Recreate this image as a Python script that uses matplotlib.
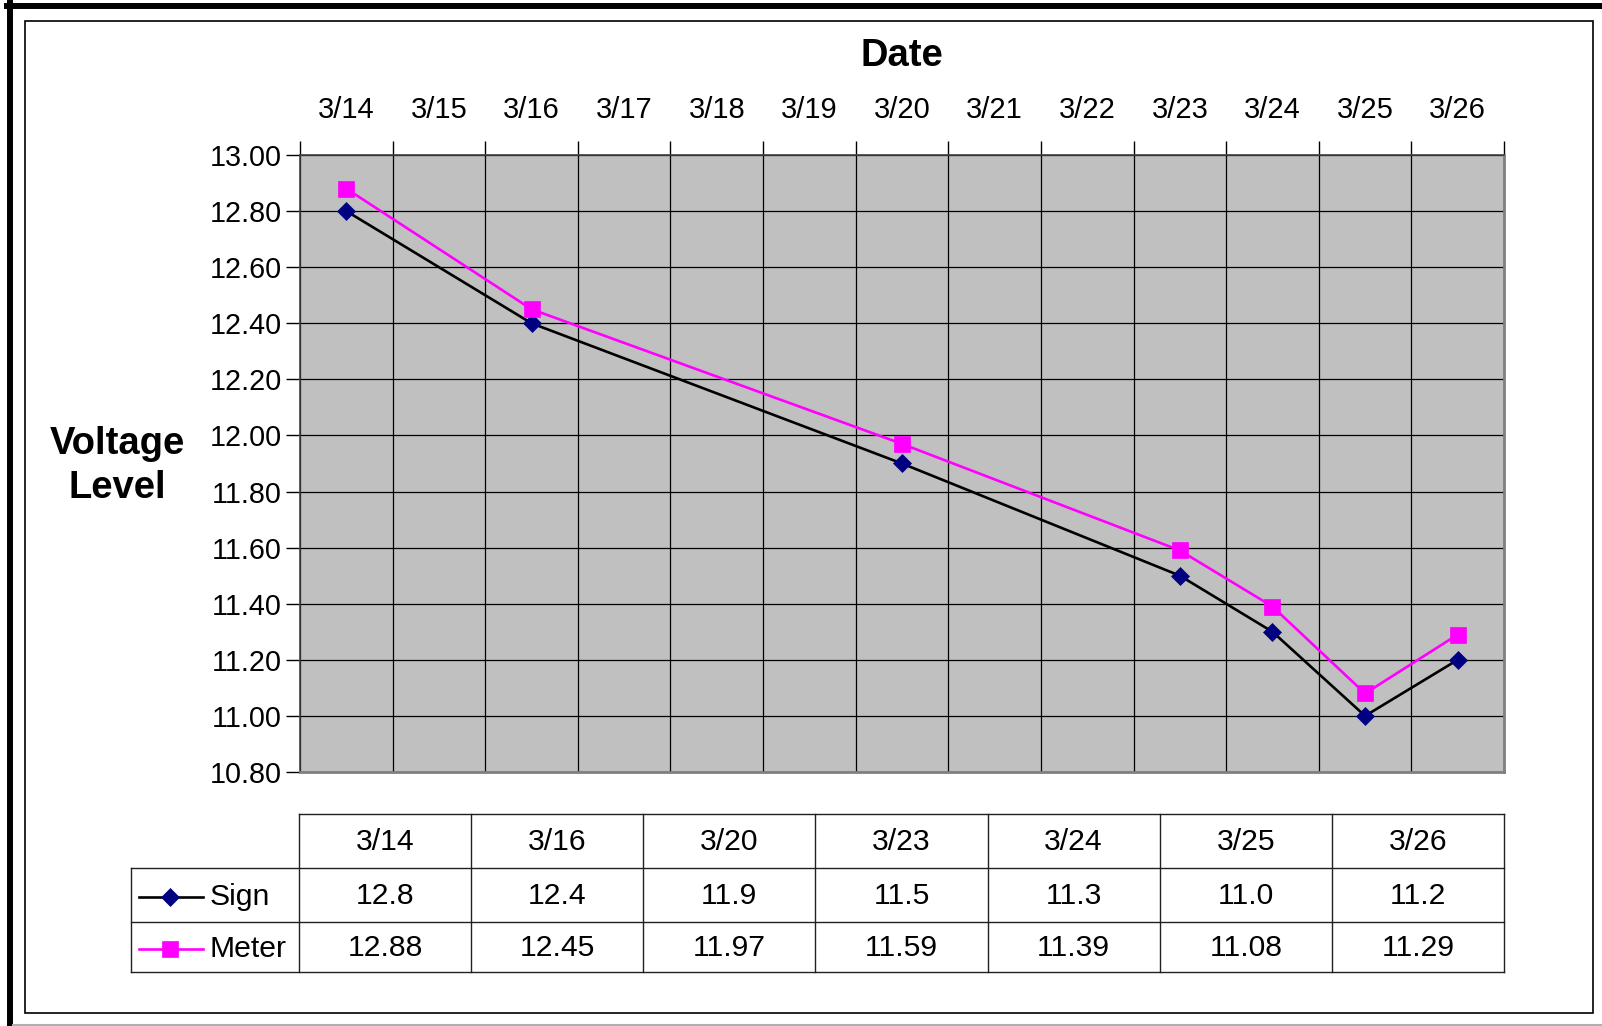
import numpy as np
import matplotlib
matplotlib.use("Agg")
import matplotlib.pyplot as plt
from matplotlib.lines import Line2D
from matplotlib.patches import Rectangle

plt.rcParams["font.family"] = ["Liberation Sans", "DejaVu Sans"]

# =====================================
# Data
# =====================================

all_dates = ["3/14", "3/15", "3/16", "3/17", "3/18", "3/19", "3/20",
             "3/21", "3/22", "3/23", "3/24", "3/25", "3/26"]

reading_dates = ["3/14", "3/16", "3/20", "3/23", "3/24", "3/25", "3/26"]
sign_values = [12.8, 12.4, 11.9, 11.5, 11.3, 11.0, 11.2]
meter_values = [12.88, 12.45, 11.97, 11.59, 11.39, 11.08, 11.29]

y_ticks = np.arange(10.8, 13.0001, 0.2)

NAVY = "#000080"
MAGENTA = "#FF00FF"
W, H = 1602, 1026


def fx(px):
    return px / W


def fy(py):
    return 1 - py / H


fig = plt.figure(figsize=(W / 100, H / 100), dpi=100)

# =====================================
# Borders
# =====================================

fig.add_artist(Line2D([fx(10), fx(10)], [fy(3), fy(1026)], color="black", lw=4.3))
fig.add_artist(Line2D([fx(7), fx(1602)], [fy(6), fy(6)], color="black", lw=4.3))
fig.add_artist(Line2D([fx(13), fx(1602)], [fy(1024.5), fy(1024.5)], color="#B0B0B0", lw=1.5))
fig.add_artist(Rectangle((fx(25), fy(1013)), fx(1593 - 25), (1013 - 21) / H,
                         fill=False, edgecolor="black", lw=1.2))

# =====================================
# Line chart
# =====================================

ax = fig.add_axes([fx(300), fy(772), fx(1504 - 300), (772 - 155) / H])
ax.set_facecolor("#C0C0C0")

x_pos = [all_dates.index(d) for d in reading_dates]

ax.plot(x_pos, sign_values, color="black", lw=1.9, marker="D", ms=9.5,
        mfc=NAVY, mec=NAVY, mew=0.5, zorder=3)
ax.plot(x_pos, meter_values, color=MAGENTA, lw=1.9, marker="s", ms=12,
        mfc=MAGENTA, mec=MAGENTA, mew=0.5, zorder=4)

ax.set_xlim(-0.5, len(all_dates) - 0.5)
ax.set_ylim(10.8, 13.0)

ax.xaxis.tick_top()
ax.set_xticks(np.arange(-0.5, len(all_dates), 1))
ax.set_xticklabels([])
ax.set_xticks(np.arange(len(all_dates)), minor=True)
ax.set_xticklabels(all_dates, minor=True, fontsize=21)
ax.tick_params(axis="x", which="major", direction="out", length=10, width=1)
ax.tick_params(axis="x", which="minor", length=0, pad=22)

ax.set_yticks(y_ticks)
ax.set_yticklabels([f"{v:.2f}" for v in y_ticks], fontsize=20.7)
ax.tick_params(axis="y", direction="out", length=10, width=1, pad=3)

ax.grid(True, which="major", color="black", lw=0.9)
ax.set_axisbelow(True)

for side in ["left", "top"]:
    ax.spines[side].set_color("#404040")
    ax.spines[side].set_linewidth(1.2)
for side in ["right", "bottom"]:
    ax.spines[side].set_color("#808080")
    ax.spines[side].set_linewidth(2)

fig.text(fx(902), fy(56), "Date", fontsize=27.5, fontweight="bold",
         ha="center", va="center")
fig.text(fx(117), fy(466), "Voltage\nLevel", fontsize=27.5, fontweight="bold",
         ha="center", va="center", linespacing=1.3)

# =====================================
# Data table
# =====================================

tx = fig.add_axes([0, 0, 1, 1], facecolor="none")
tx.set_xlim(0, W)
tx.set_ylim(H, 0)
tx.axis("off")

left, col0, right = 131, 299, 1504
rows = [814, 868, 922, 972]
col_w = (right - col0) / len(reading_dates)
col_edges = [col0 + i * col_w for i in range(len(reading_dates) + 1)]

grid_kw = dict(color="#202020", lw=1.0)
tx.plot([col0, right], [rows[0], rows[0]], **grid_kw)
for r in rows[1:]:
    tx.plot([left, right], [r, r], **grid_kw)
tx.plot([left, left], [rows[1], rows[3]], **grid_kw)
for c in col_edges:
    tx.plot([c, c], [rows[0], rows[3]], **grid_kw)

for i, d in enumerate(reading_dates):
    cx = col_edges[i] + col_w / 2
    tx.text(cx, (rows[0] + rows[1]) / 2 + 1, d, fontsize=21.7,
            ha="center", va="center")
    tx.text(cx, (rows[1] + rows[2]) / 2 + 1, f"{sign_values[i]:.1f}",
            fontsize=21.7, ha="center", va="center")
    tx.text(cx, (rows[2] + rows[3]) / 2 + 1, f"{meter_values[i]:.2f}",
            fontsize=21.7, ha="center", va="center")

# legend keys
sy = (rows[1] + rows[2]) / 2 + 2
my = (rows[2] + rows[3]) / 2 + 2
tx.plot([139, 203], [sy, sy], color="black", lw=1.9)
tx.plot([170], [sy], marker="D", ms=9.5, color=NAVY, mew=0.5)
tx.plot([139, 203], [my, my], color=MAGENTA, lw=1.9)
tx.plot([170], [my], marker="s", ms=12, color=MAGENTA, mew=0.5)
tx.text(210, sy, "Sign", fontsize=21.7, ha="left", va="center")
tx.text(210, my, "Meter", fontsize=21.7, ha="left", va="center")

fig.savefig("out.png", dpi=100)
